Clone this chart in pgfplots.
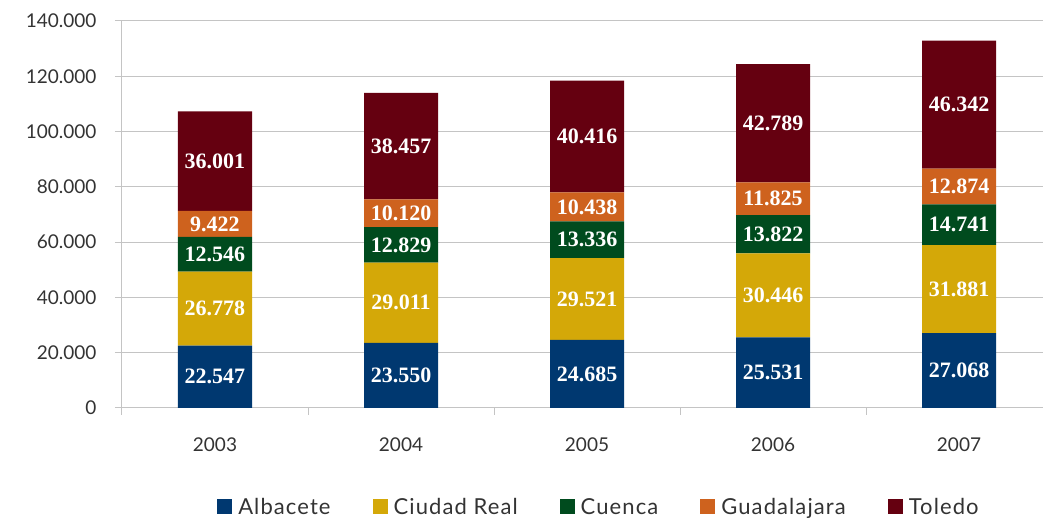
\documentclass[border=0pt]{standalone}
\usepackage{pgfplots}
\pgfplotsset{compat=1.18}
\usepackage{pgfplotstable}
\usepackage{fontspec}
\setmainfont{Lato}
\newfontfamily\legfont[LetterSpace=5]{Lato}
\newfontfamily\labfont{Liberation Serif}
\definecolor{cAlb}{HTML}{003870}
\definecolor{cCR}{HTML}{D4A808}
\definecolor{cCue}{HTML}{004B1E}
\definecolor{cGua}{HTML}{CE621E}
\definecolor{cTol}{HTML}{650010}
\definecolor{gridc}{HTML}{C4C4C4}
\definecolor{txt}{HTML}{333333}
% values in thousands
\pgfplotstableread{
x Alb CR Cue Gua Tol
0 22.547 26.778 12.546 9.422 36.001
1 23.550 29.011 12.829 10.120 38.457
2 24.685 29.521 13.336 10.438 40.416
3 25.531 30.446 13.822 11.825 42.789
4 27.068 31.881 14.741 12.874 46.342
}\data
\begin{document}
\begin{tikzpicture}
\path[use as bounding box] (-122pt,-110pt) rectangle (921pt,408pt);
\begin{axis}[
  at={(0,0)}, anchor=south west,
  scale only axis, width=930pt, height=387pt,
  ybar stacked, bar width=74pt,
  xmin=-0.5, xmax=4.5, ymin=0, ymax=140,
  axis x line=bottom, axis y line=left,
  axis line style={-, draw=gridc, line width=1pt},
  x tick label as interval,
  xtick={-0.5,0.5,1.5,2.5,3.5,4.5},
  xticklabels={2003,2004,2005,2006,2007},
  ytick={0,20,...,140},
  yticklabels={0,20.000,40.000,60.000,80.000,100.000,120.000,140.000},
  tick align=outside, major tick length=7pt,
  tick style={draw=gridc, line width=1pt},
  ymajorgrids, grid style={draw=gridc, line width=1pt},
  ticklabel style={font=\fontsize{19}{22}\selectfont, text=txt},
  yticklabel style={xshift=-15pt},
  xticklabel style={yshift=-19pt},
  legend columns=5,
  legend style={at={(0.5129,-0.2557)}, anchor=center, draw=none, fill=none,
    font=\legfont\fontsize{22}{24}\selectfont, text=txt,
    /tikz/every odd column/.append style={column sep=4pt},
    /tikz/every even column/.append style={column sep=40pt},
    inner sep=0pt},
  legend image code/.code={\fill[#1] (0pt,-7.5pt) rectangle (15pt,7.5pt);},
  point meta=explicit,
  nodes near coords={\pgfmathprintnumber[assume math mode=true,fixed,zerofill,precision=3]{\pgfplotspointmeta}},
  every node near coord/.append style={anchor=center, text=white,
    font=\labfont\bfseries\fontsize{22}{24}\selectfont},
]
\addplot[fill=cAlb, draw=none] table[x=x, y=Alb, meta=Alb] {\data};
\addplot[fill=cCR, draw=none] table[x=x, y=CR, meta=CR] {\data};
\addplot[fill=cCue, draw=none] table[x=x, y=Cue, meta=Cue] {\data};
\addplot[fill=cGua, draw=none] table[x=x, y=Gua, meta=Gua] {\data};
\addplot[fill=cTol, draw=none] table[x=x, y=Tol, meta=Tol] {\data};
\legend{Albacete, Ciudad Real, Cuenca, Guadalajara, Toledo}
\end{axis}
\end{tikzpicture}
\end{document}
